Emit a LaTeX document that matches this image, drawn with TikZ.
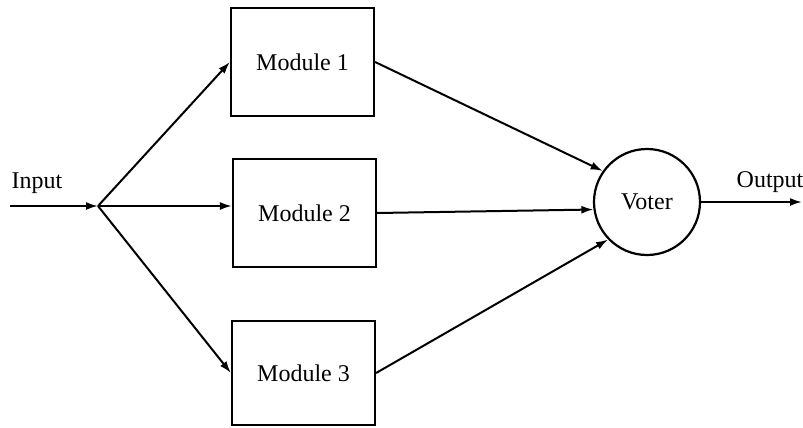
\documentclass[tikz,border=0pt]{standalone}
\usepackage{fontspec}
\setmainfont{Liberation Serif}
\usetikzlibrary{arrows.meta}
\begin{document}
\begin{tikzpicture}[x=0.5pt,y=-0.5pt,
  every node/.style={font=\fontsize{12}{14}\selectfont},
  modbox/.style={draw,line width=1.1pt,minimum width=71.5pt,minimum height=54pt,inner sep=0pt},
  votercircle/.style={draw,circle,line width=1.1pt,minimum size=53pt,inner sep=0pt},
  label/.style={inner sep=0pt},
  wire/.style={line width=1pt,-{Latex[length=6pt,width=4pt]}}]
\useasboundingbox (0,0) rectangle (803,428);
% modules and voter
\node[modbox] (m1) at (302.5,62) {Module 1};
\node[modbox] (m2) at (304.5,213) {Module 2};
\node[modbox,minimum height=52pt] (m3) at (303.5,373) {Module 3};
\node[votercircle] (v) at (647,202) {Voter};
% input fan-out
\coordinate (in) at (10,206);
\coordinate (split) at (98,206);
\coordinate (out) at (802,202);
\node[label] (inlabel) at (37,183) {Input};
\node[label] (outlabel) at (770,182) {Output};
\draw[wire] (in) -- (split);
\draw[wire] (split) -- (m1.west);
\draw[wire] (split) -- (m2.west |- split);
\draw[wire] (split) -- (m3.west);
% module outputs to the voter
\draw[wire] (m1.east) -- (v.145);
\draw[wire] (m2.east) -- (v.188);
\draw[wire] (m3.east) -- (v.224);
\draw[wire] (v.east) -- (out);
\end{tikzpicture}
\end{document}
